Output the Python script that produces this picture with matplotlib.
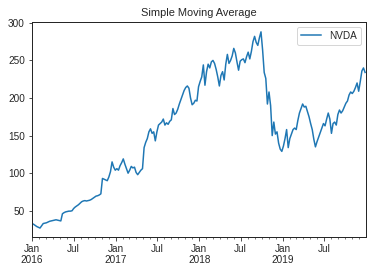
import numpy as np
import pandas as pd
import matplotlib
matplotlib.use("Agg")
import matplotlib.pyplot as plt
import matplotlib.dates as mdates
from matplotlib.ticker import FuncFormatter

# Weekly NVDA moving-average values
start_date = "2016-01-01"
n_weeks = 209
nvda_2016 = [33, 32, 30.5, 29, 28, 27, 30, 33, 33.5, 34, 35, 36, 36.5, 37, 37.5, 38,
             37.5, 37, 36.5, 46, 47.5, 48.5, 49, 49.5, 49.5, 50, 53, 55, 56.5, 58, 60,
             62, 63, 63.5, 63, 63.5, 64, 65, 66.5, 68, 69.5, 70, 71, 72.5, 93, 92, 91,
             90, 95, 102, 115, 108, 104]
nvda_2017 = [106, 104, 110, 114, 119, 112, 106, 100, 104, 109, 107, 108, 101, 98, 101,
             104, 106, 134, 141, 146, 155, 159, 153, 155, 143, 155, 164, 166, 168, 172,
             164, 167, 165, 169, 171, 186, 178, 180, 185, 192, 198, 204, 210, 214, 216,
             213, 200, 191, 193, 197, 196, 215]
nvda_2018 = [222, 228, 244, 217, 235, 245, 240, 248, 250, 246, 238, 228, 216, 230, 235,
             224, 245, 258, 246, 250, 256, 266, 260, 248, 237, 249, 251, 252, 247, 255,
             261, 252, 262, 275, 282, 274, 270, 280, 288, 264, 234, 226, 192, 208, 190,
             150, 168, 152, 155, 140, 132, 129]
nvda_2019 = [136, 146, 158, 134, 146, 152, 158, 160, 158, 170, 180, 186, 192, 188, 189,
             182, 175, 166, 158, 145, 135, 142, 148, 154, 160, 166, 163, 172, 180, 172,
             153, 166, 168, 164, 178, 184, 180, 183, 188, 193, 196, 204, 208, 206, 209,
             214, 220, 209, 222, 236, 240, 234]

values = nvda_2016 + nvda_2017 + nvda_2018 + nvda_2019
dates = pd.date_range(start_date, periods=len(values), freq="7D")
series = pd.Series(values, index=dates, name="NVDA")

text_color = "#262626"
plt.rcParams.update({
    "font.family": ["Liberation Sans", "DejaVu Sans"],
    "font.size": 10,
    "text.color": text_color,
    "axes.edgecolor": text_color,
    "xtick.color": text_color,
    "ytick.color": text_color,
    "axes.labelcolor": text_color,
    "axes.linewidth": 1.0,
})

fig = plt.figure(figsize=(372 / 72, 272 / 72), dpi=72)
ax = fig.add_axes([32 / 372, 1 - 236.7 / 272, (366 - 32) / 372, (236.7 - 21.7) / 272])
ax.plot(series.index, series.values, color="#1f77b4", lw=1.5, label="NVDA")

ax.set_xlim(pd.Timestamp("2016-01-01"), pd.Timestamp("2019-12-31"))
ax.set_ylim(15.5, 301.5)
ax.set_yticks([50, 100, 150, 200, 250, 300])

ax.xaxis.set_major_locator(mdates.MonthLocator(bymonth=[1, 7]))
ax.xaxis.set_minor_locator(mdates.MonthLocator())

def fmt(x, pos):
    d = mdates.num2date(x)
    if d.month == 1:
        return d.strftime("%b\n%Y")
    return d.strftime("%b")

ax.xaxis.set_major_formatter(FuncFormatter(fmt))
ax.xaxis.set_minor_formatter(FuncFormatter(lambda x, p: ""))
for lab in ax.get_xticklabels():
    lab.set_ha("center")

ax.set_title("Simple Moving Average", fontsize=11)
ax.legend(loc="upper right", frameon=True, edgecolor="#cccccc")

fig.savefig("out.png", dpi=72)
